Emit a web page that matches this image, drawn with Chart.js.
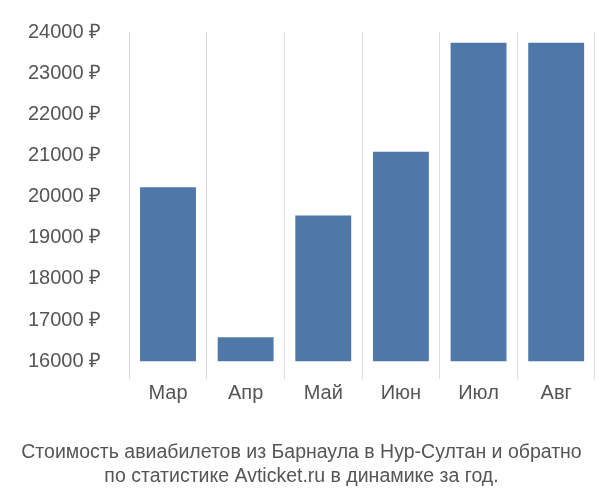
<!DOCTYPE html>
<html><head><meta charset="utf-8">
<script src="https://cdn.jsdelivr.net/npm/chart.js@4/dist/chart.umd.min.js"></script>
<style>html,body{margin:0;padding:0;background:#fff}#w{width:600px;height:500px}</style>
</head><body><div id="w"><canvas id="c"></canvas></div>
<script>
const categories = ["Мар","Апр","Май","Июн","Июл","Авг"];
const prices = [20230, 16580, 19540, 21090, 23740, 23740];
const yTicks = [16000,17000,18000,19000,20000,21000,22000,23000,24000];
const titleLines = ["Стоимость авиабилетов из Барнаула в Нур-Султан и обратно","по статистике Avticket.ru в динамике за год."];
new Chart(document.getElementById('c'), {
  type: 'bar',
  data: { labels: categories, datasets: [{ data: prices, backgroundColor: '#4e78a8', categoryPercentage: 0.72, barPercentage: 1 }] },
  options: {
    responsive: true, maintainAspectRatio: false, animation: false,
    layout: { padding: { top: 4, right: 5, left: 8, bottom: 12 } },
    plugins: {
      legend: { display: false }, tooltip: { enabled: false },
      title: { display: true, position: 'bottom', text: titleLines, color: '#555',
        font: { family: 'Liberation Sans, Arial', size: 19.5, weight: 'normal' }, padding: { top: 34, bottom: 0 }, lineHeight: 1.35 }
    },
    scales: {
      x: { grid: { display: true, color: '#ddd', offset: true, tickLength: 18, drawOnChartArea: true },
        border: { display: false },
        ticks: { color: '#555', font: { family: 'Liberation Sans, Arial', size: 20 }, padding: 2 } },
      y: { min: 16000, max: 24000, grid: { display: false }, border: { display: true, color: '#ddd' },
        afterBuildTicks: a => { a.ticks = yTicks.map(v => ({ value: v })); },
        ticks: { color: '#555', font: { family: 'Liberation Sans, Arial', size: 20 }, padding: 20,
          callback: v => v + ' ₽' } }
    }
  }
});
</script></body></html>
